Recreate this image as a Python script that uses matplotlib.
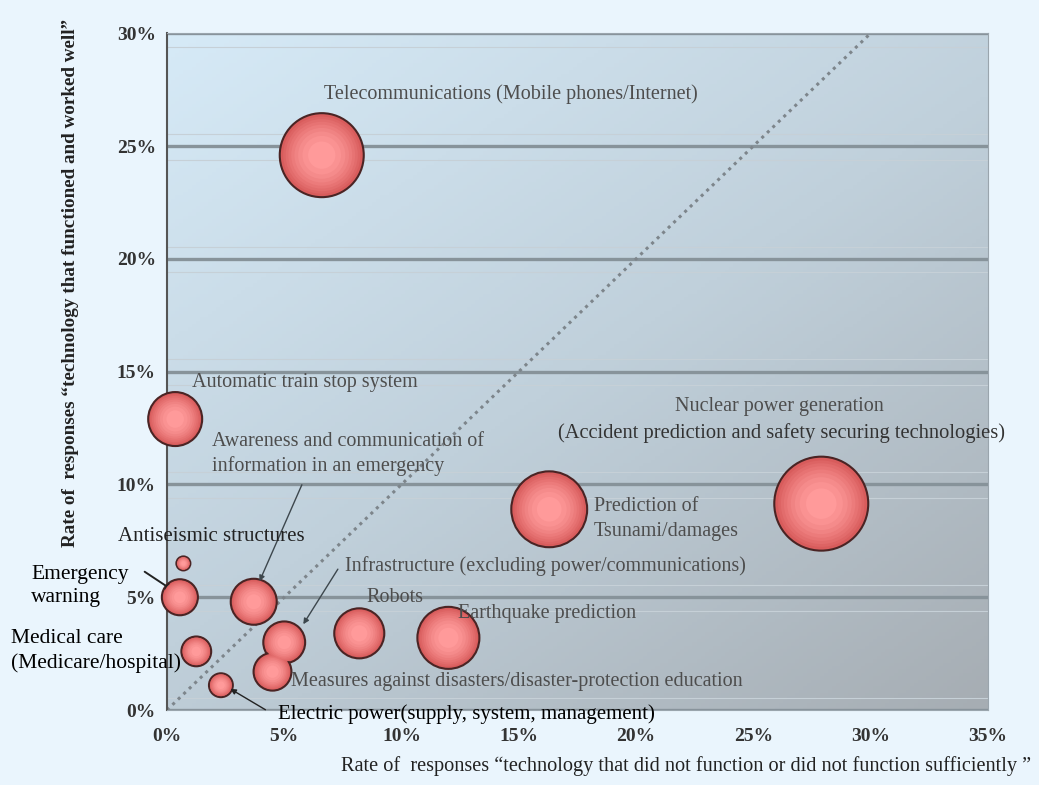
import matplotlib.pyplot as plt
import numpy as np
from matplotlib.colors import LinearSegmentedColormap, to_rgb

plt.rcParams['font.family'] = ['Liberation Serif', 'DejaVu Serif']

# data: x = rate "did not function", y = rate "functioned well" (%), size = bubble value
names = ['Telecommunications', 'Automatic train stop', 'Nuclear power', 'Tsunami prediction',
         'Antiseismic structures', 'Emergency warning', 'Awareness', 'Infrastructure',
         'Robots', 'Earthquake prediction', 'Medical care', 'Measures', 'Electric power']
x_rate = [6.6, 0.35, 27.9, 16.3, 0.7, 0.55, 3.7, 5.0, 8.2, 12.0, 1.25, 4.5, 2.3]
y_rate = [24.6, 12.9, 9.15, 8.9, 6.5, 5.0, 4.8, 3.0, 3.4, 3.2, 2.6, 1.7, 1.1]
bubble = [31.0, 12.8, 38.8, 25.3, 0.86, 5.7, 9.3, 7.7, 11.0, 16.9, 3.9, 6.3, 2.5]

x_ticks = [0, 5, 10, 15, 20, 25, 30, 35]
y_ticks = [0, 5, 10, 15, 20, 25, 30]

fig = plt.figure(figsize=(10.39, 7.85), dpi=100)
fig.patch.set_facecolor('#eaf5fd')
ax = fig.add_axes([0.1607, 0.0955, 0.79, 0.862])

# gradient plot background
gx, gy = np.meshgrid(np.linspace(0, 1, 200), np.linspace(0, 1, 200))
grad = 0.45 * gx + 0.55 * gy
cmap = LinearSegmentedColormap.from_list('bg', ['#d6eaf7', '#c0d0db', '#a6adb3'])
ax.imshow(grad, extent=[0, 1, 0, 1], transform=ax.transAxes, origin='upper',
          cmap=cmap, aspect='auto', zorder=0)

ax.set_xlim(0, 35)
ax.set_ylim(0, 30)
for yt in y_ticks:
    ax.axhline(yt, color='#87939a', lw=2.4, zorder=1)
    ax.axhline(yt + 0.55, color='#c6d0d7', lw=0.8, zorder=1)
    ax.axhline(yt - 0.6, color='#c6d0d7', lw=0.8, zorder=1)

# diagonal y = x reference
ax.plot([0, 30], [0, 30], ls=(0, (1, 1.5)), color='#7d858b', lw=2.2, zorder=2)

# bubbles with radial shading
s = np.array(bubble) * 118
edge = np.array(to_rgb('#d85c5c'))
centre = np.array(to_rgb('#ff9a9a'))
ax.scatter(x_rate, y_rate, s=s, c=[edge], edgecolors='#4a2424', linewidths=1.5, zorder=3, clip_on=False)
for k in range(1, 9):
    f = 1 - k / 9
    col = edge + (centre - edge) * (k / 8)
    ax.scatter(x_rate, y_rate, s=s * f * 0.95, c=[col], edgecolors='none',
               zorder=3 + k * 0.01, clip_on=False)

ax.set_xticks(x_ticks)
ax.set_xticklabels([f'{v}%' for v in x_ticks])
ax.set_yticks(y_ticks)
ax.set_yticklabels([f'{v}%' for v in y_ticks])
ax.tick_params(axis='x', length=0, labelsize=14, pad=13)
ax.tick_params(axis='y', length=0, labelsize=14, pad=8)
for lab in ax.get_xticklabels() + ax.get_yticklabels():
    lab.set_fontweight('bold')
    lab.set_color('#333333')
for side in ['top', 'right', 'bottom']:
    ax.spines[side].set_color('#9aa5ad')
ax.spines['left'].set_color('#555555')
ax.spines['left'].set_linewidth(1.5)

gray = '#4d4d4d'
fs = 14.5
ax.text(14.66, 27.3, 'Telecommunications (Mobile phones/Internet)', ha='center', va='center', fontsize=fs, color=gray, zorder=6)
ax.text(1.07, 14.5, 'Automatic train stop system', ha='left', va='center', fontsize=fs, color=gray, zorder=6)
ax.text(26.1, 13.45, 'Nuclear power generation', ha='center', va='center', fontsize=fs, color=gray, zorder=6)
ax.text(26.2, 12.3, '(Accident prediction and safety securing technologies)', ha='center', va='center', fontsize=14.8, color='#333333', zorder=6)
ax.text(1.92, 11.9, 'Awareness and communication of', ha='left', va='center', fontsize=fs, color=gray, zorder=6)
ax.text(1.92, 10.8, 'information in an emergency', ha='left', va='center', fontsize=fs, color=gray, zorder=6)
ax.text(18.2, 9.04, 'Prediction of', ha='left', va='center', fontsize=fs, color=gray, zorder=6)
ax.text(18.2, 7.9, 'Tsunami/damages', ha='left', va='center', fontsize=fs, color=gray, zorder=6)
ax.text(-2.1, 7.7, 'Antiseismic structures', ha='left', va='center', fontsize=15, color='#222222', zorder=6, clip_on=False)
ax.text(7.6, 6.4, 'Infrastructure (excluding power/communications)', ha='left', va='center', fontsize=fs, color=gray, zorder=6)
ax.text(8.5, 5.0, 'Robots', ha='left', va='center', fontsize=fs, color=gray, zorder=6)
ax.text(12.4, 4.27, 'Earthquake prediction', ha='left', va='center', fontsize=fs, color=gray, zorder=6)
ax.text(5.3, 1.25, 'Measures against disasters/disaster-protection education', ha='left', va='center', fontsize=fs, color=gray, zorder=6)
ax.text(-5.8, 5.5, 'Emergency\nwarning', ha='left', va='center', fontsize=15.5, color='black', linespacing=1.35, clip_on=False)
ax.text(-6.65, 2.6, 'Medical care\n(Medicare/hospital)', ha='left', va='center', fontsize=15.5, color='black', linespacing=1.35, clip_on=False)
ax.text(4.74, -0.2, 'Electric power(supply, system, management)', ha='left', va='center', fontsize=15, color='black', clip_on=False, zorder=6)

# leader lines
arrow = dict(arrowstyle='-|>', color='#222222', lw=1.4, mutation_scale=11)
ax.annotate('', xy=(x_rate[5] - 0.15, y_rate[5] + 0.2), xytext=(-1.05, 6.2), arrowprops=arrow, annotation_clip=False)
ax.annotate('', xy=(3.9, 5.6), xytext=(5.8, 10.1), arrowprops=dict(arrowstyle='-|>', color='#3d474d', lw=1.0, mutation_scale=8))
ax.annotate('', xy=(5.75, 3.7), xytext=(7.35, 6.35), arrowprops=dict(arrowstyle='-|>', color='#3d474d', lw=1.0, mutation_scale=8))
ax.annotate('', xy=(2.6, 1.0), xytext=(4.3, -0.05), arrowprops=dict(arrowstyle='-|>', color='#222222', lw=1.0, mutation_scale=8), annotation_clip=False)

fig.text(0.068, 0.64, 'Rate of  responses \u201ctechnology that functioned and worked well\u201d',
         rotation=90, ha='center', va='center', fontsize=13.8, fontweight='bold', color='#222222')
fig.text(0.992, 0.012, 'Rate of  responses \u201ctechnology that did not function or did not function sufficiently \u201d',
         ha='right', va='bottom', fontsize=14.6, color='#222222')

fig.savefig('out.png', dpi=100, facecolor=fig.get_facecolor())
